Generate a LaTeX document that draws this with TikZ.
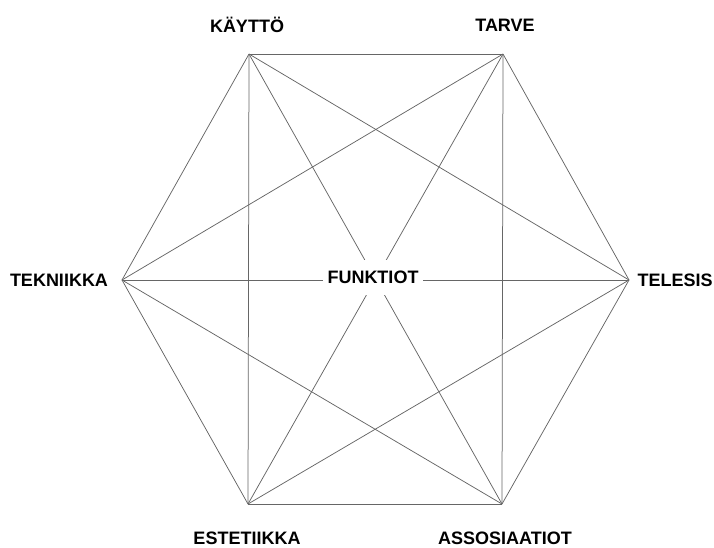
\documentclass[tikz,border=0pt]{standalone}
\usepackage{fontspec}
\setmainfont{Liberation Sans}
\begin{document}
\begin{tikzpicture}[x=1pt,y=-1pt,
  edge/.style={draw=black!60,line width=0.75pt},
  lbl/.style={font=\fontsize{18}{20}\selectfont\bfseries,inner sep=0pt}]
\useasboundingbox (0,0) rectangle (714,547);
\coordinate (tl) at (249,54);
\coordinate (tr) at (503,54);
\coordinate (r) at (629,280);
\coordinate (br) at (502,504);
\coordinate (bl) at (248,504);
\coordinate (l) at (122,280);
\foreach \a/\b in {tl/tr,tl/r,tl/br,tl/bl,tl/l,tr/r,tr/br,tr/bl,tr/l,r/br,r/bl,r/l,br/bl,br/l,bl/l}
  \draw[edge] (\a) -- (\b);
\node[lbl,fill=white,inner xsep=5pt,minimum height=35pt] (c) at (373,277.5) {FUNKTIOT};
\node[lbl] (k) at (247,25) {KÄYTTÖ};
\node[lbl] (t) at (505,25) {TARVE};
\node[lbl] (te) at (59,280) {TEKNIIKKA};
\node[lbl] (tel) at (675,280) {TELESIS};
\node[lbl] (e) at (247,538) {ESTETIIKKA};
\node[lbl] (a) at (505,538) {ASSOSIAATIOT};
\end{tikzpicture}
\end{document}
